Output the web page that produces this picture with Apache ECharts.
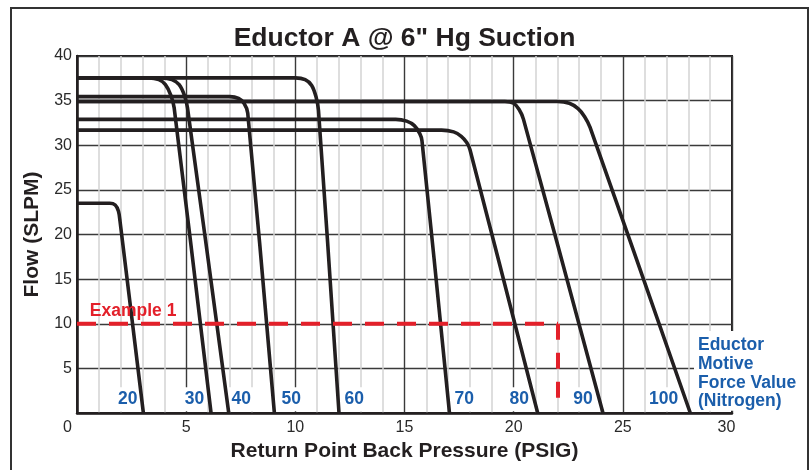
<!DOCTYPE html>
<html>
<head>
<meta charset="utf-8">
<script src="https://cdn.jsdelivr.net/npm/echarts@6/dist/echarts.min.js"></script>
<style>
html,body{margin:0;padding:0;background:#fff;}
#chart{width:809px;height:470px;}
</style>
</head>
<body>
<div id="chart"></div>
<script>
// ---- data ----
const xTickValues = [0, 5, 10, 15, 20, 25, 30];
const yTickValues = [0, 5, 10, 15, 20, 25, 30, 35, 40];

const motiveForce = ['20', '30', '40', '50', '60', '70', '80', '90', '100'];

const curve20  = [[0,23.5],[1.5,23.5],[1.75,23.3],[1.9,22.6],[1.97,21.5],[3.04,0]];
const curve30  = [[0,37.55],[3.3,37.55],[3.75,37.35],[4.05,36.8],[4.3,35.6],[4.45,34.2],[6.14,0]];
const curve40  = [[0,37.55],[3.9,37.55],[4.35,37.35],[4.68,36.8],[4.92,35.6],[5.06,34.2],[6.95,0]];
const curve50  = [[0,35.45],[7.0,35.45],[7.4,35.25],[7.65,34.7],[7.82,33.6],[9.04,0]];
const curve60  = [[0,37.55],[10.0,37.55],[10.45,37.35],[10.75,36.7],[10.95,35.4],[11.06,33.9],[12.0,0]];
const curve70  = [[0,32.9],[14.6,32.9],[15.1,32.7],[15.45,32.2],[15.7,31.3],[15.8,30.5],[17.06,0]];
const curve80  = [[0,31.7],[16.7,31.7],[17.25,31.5],[17.6,31.0],[17.85,30.3],[18.0,29.5],[21.1,0]];
const curve90  = [[0,34.9],[19.6,34.9],[20.0,34.7],[20.25,34.0],[20.45,32.9],[24.09,0]];
const curve100 = [[0,34.9],[22.0,34.9],[22.55,34.7],[22.95,34.1],[23.25,33.2],[23.5,32.0],[28.09,0]];

const curves = [curve20, curve30, curve40, curve50, curve60, curve70, curve80, curve90, curve100];

// curve label anchors (data coordinates)
const curveLabelX = [2.32, 5.38, 7.52, 9.81, 12.7, 17.74, 20.26, 23.18, 26.87];
const curveLabelY = [1.54, 1.54, 1.54, 1.54, 1.54, 1.54, 1.54, 1.54, 1.54];

// Example 1
const exampleFlow = 10;
const exampleBackPressure = 22.03;
const exampleEndFlow = 0.7;
const exampleLabelPos = [2.57, 11.45];

// ---- chart ----
const BLACK = '#231f20';
const BLUE = '#1b5eab';
const RED = '#e3202a';
const FONT = '"Liberation Sans", Arial, Helvetica, sans-serif';

const series = curves.map((c, i) => ({
  name: motiveForce[i],
  type: 'line',
  data: c,
  showSymbol: false,
  symbol: 'none',
  smooth: 0.3,
  lineStyle: { color: BLACK, width: 3.6, cap: 'butt', join: 'round' },
  z: 3,
  silent: true
}));

series.push({
  type: 'line',
  data: [[0, exampleFlow], [exampleBackPressure, exampleFlow]],
  symbol: 'none',
  lineStyle: { color: RED, width: 4, type: [19, 13] },
  z: 5, silent: true
});
series.push({
  type: 'line',
  data: [[exampleBackPressure, exampleFlow], [exampleBackPressure, exampleEndFlow]],
  symbol: 'none',
  lineStyle: { color: RED, width: 4, type: [16, 13] },
  z: 5, silent: true
});

series.push({
  type: 'scatter',
  symbolSize: 0,
  z: 2,
  silent: true,
  itemStyle: { opacity: 1 },
  data: motiveForce.map((n, i) => ({ value: [curveLabelX[i], curveLabelY[i]], name: n })),
  label: {
    show: true,
    position: 'inside',
    formatter: p => p.name,
    color: BLUE,
    opacity: 1,
    fontFamily: FONT,
    fontWeight: 'bold',
    fontSize: 17.5,
    backgroundColor: '#fff',
    padding: [3, 3, 3, 3]
  }
});

series.push({
  type: 'scatter',
  symbolSize: 0,
  z: 6,
  silent: true,
  itemStyle: { opacity: 1 },
  data: [{ value: exampleLabelPos, name: 'Example 1' }],
  label: {
    show: true,
    position: 'inside',
    formatter: p => p.name,
    color: RED,
    opacity: 1,
    fontFamily: FONT,
    fontWeight: 'bold',
    fontSize: 17.5
  }
});

const chart = echarts.init(document.getElementById('chart'), null, { renderer: 'canvas' });

chart.setOption({
  animation: false,
  backgroundColor: '#fff',
  title: {
    text: 'Eductor A @ 6" Hg Suction',
    left: 'center',
    top: 20,
    textStyle: { fontFamily: FONT, fontWeight: 'bold', fontSize: 26.5, color: BLACK }
  },
  grid: {
    left: 77, right: 77, top: 56, bottom: 57,
    show: true, borderColor: BLACK, borderWidth: 2, backgroundColor: 'transparent',
    containLabel: false
  },
  xAxis: {
    type: 'value',
    min: xTickValues[0],
    max: xTickValues[xTickValues.length - 1],
    interval: 5,
    name: 'Return Point Back Pressure (PSIG)',
    nameLocation: 'middle',
    nameGap: 27,
    nameTextStyle: { fontFamily: FONT, fontWeight: 'bold', fontSize: 21, color: BLACK },
    axisLine: { show: true, lineStyle: { color: BLACK, width: 2.5 } },
    axisTick: { show: false },
    minorTick: { show: false, splitNumber: 5 },
    minorSplitLine: { show: true, lineStyle: { color: '#d4d4d4', width: 1.5 } },
    splitLine: { show: true, lineStyle: { color: '#3a3a3a', width: 1.4 } },
    axisLabel: {
      margin: 7,
      fontFamily: FONT, fontSize: 16, color: '#2a2a2a',
      formatter: v => v === 0 ? '{a|0}' : (v === 30 ? '{b|30}' : String(v)),
      rich: {
        a: { fontFamily: FONT, fontSize: 16, color: '#2a2a2a', padding: [0, 19, 0, 0] },
        b: { fontFamily: FONT, fontSize: 16, color: '#2a2a2a', padding: [0, 11, 0, 0] }
      }
    }
  },
  yAxis: {
    type: 'value',
    min: yTickValues[0],
    max: yTickValues[yTickValues.length - 1],
    interval: 5,
    name: 'Flow (SLPM)',
    nameLocation: 'middle',
    nameGap: 34,
    nameTextStyle: { fontFamily: FONT, fontWeight: 'bold', fontSize: 21, color: BLACK },
    axisLine: { show: true, lineStyle: { color: BLACK, width: 2.5 } },
    axisTick: { show: false },
    splitLine: { show: true, lineStyle: { color: '#3a3a3a', width: 1.4 } },
    axisLabel: {
      margin: 5, showMinLabel: false,
      fontFamily: FONT, fontSize: 16, color: '#2a2a2a'
    }
  },
  graphic: [
    {
      type: 'polyline',
      shape: { points: [[11, 470], [11, 8], [808, 8], [808, 470]] },
      style: { stroke: '#333', lineWidth: 2, fill: null },
      z: 1, silent: true
    },
    {
      type: 'text',
      left: 694,
      top: 331,
      z: 100,
      silent: true,
      style: {
        text: 'Eductor\nMotive\nForce Value\n(Nitrogen)',
        fill: BLUE,
        font: 'bold 17.5px ' + FONT,
        lineHeight: 18.7,
        backgroundColor: '#fff',
        padding: [5, 2, 0, 4]
      }
    }
  ],
  series: series
});
</script>
</body>
</html>
